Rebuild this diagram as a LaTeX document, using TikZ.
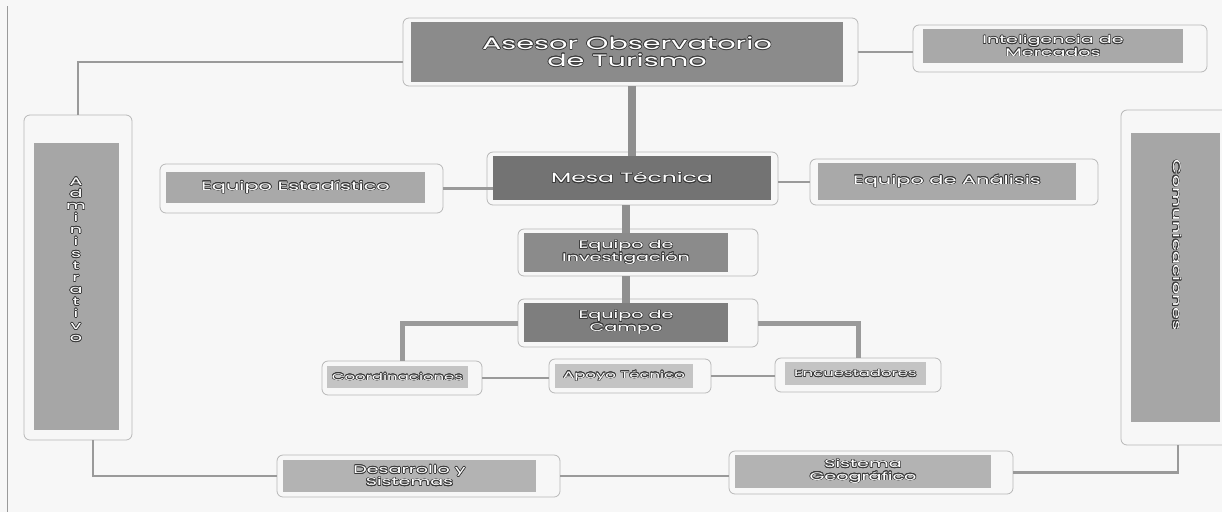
\documentclass[tikz,border=0pt]{standalone}
\usepackage{fontspec}
\setmainfont{Poppins}[FakeStretch=1.74]
\usepackage{contour}
\contourlength{0.6pt}
\usetikzlibrary{calc}
\definecolor{bgc}{HTML}{F7F7F7}
\definecolor{fdark}{HTML}{737373}
\definecolor{fmid}{HTML}{8B8B8B}
\definecolor{fcamp}{HTML}{7E7E7E}
\definecolor{flight}{HTML}{A9A9A9}
\definecolor{fpale}{HTML}{C4C4C4}
\definecolor{fside}{HTML}{A6A6A6}
\definecolor{fbot}{HTML}{B3B3B3}
\definecolor{linec}{HTML}{9A9A9A}
\definecolor{barc}{HTML}{8F8F8F}
\definecolor{framec}{HTML}{B8B8B8}
\definecolor{edgec}{HTML}{3A3A3A}
\newcommand\wtxt[1]{\contour{edgec}{#1}}
\begin{document}
\begin{tikzpicture}[x=1pt,y=-1pt,
  box/.style={rectangle, inner sep=0pt, text=white, align=center},
  frame/.style={rectangle, draw=framec, line width=0.8pt, rounded corners=6pt, inner sep=0pt},
  conn/.style={draw=linec, line width=2.6pt},
  branch/.style={draw=linec, line width=5pt},
  bar/.style={draw=barc, line width=8pt},
  big/.style={font=\fontsize{16.5}{17}\selectfont},
  mid/.style={font=\fontsize{13.5}{15}\selectfont},
  norm/.style={font=\fontsize{12}{13}\selectfont},
  small/.style={font=\fontsize{11}{12.5}\selectfont},
  tiny/.style={font=\fontsize{9.5}{10}\selectfont},
  side/.style={font=\fontsize{11}{12}\selectfont}]
\useasboundingbox (0,0) rectangle (1222,512);
\fill[bgc] (0,0) rectangle (1222,512);
\draw[linec, line width=0.8pt] (7,6) -- (7,512);

% frames
\node[frame, minimum width=455pt, minimum height=68pt] (asesorF) at (630.5,52) {};
\node[frame, minimum width=294pt, minimum height=47pt] (intelF) at (1060,48.5) {};
\node[frame, minimum width=291pt, minimum height=53pt] (mesaF) at (632.5,178.5) {};
\node[frame, minimum width=283pt, minimum height=49pt] (estadF) at (301.5,188.5) {};
\node[frame, minimum width=288pt, minimum height=46pt] (analF) at (954,182) {};
\node[frame, minimum width=240pt, minimum height=47pt] (invF) at (638,252.5) {};
\node[frame, minimum width=240pt, minimum height=48pt] (campoF) at (638,323) {};
\node[frame, minimum width=160pt, minimum height=34pt] (coordF) at (402,378) {};
\node[frame, minimum width=162pt, minimum height=34pt] (apoyoF) at (630,376) {};
\node[frame, minimum width=166pt, minimum height=34pt] (encuF) at (858,375) {};
\node[frame, minimum width=283pt, minimum height=42pt] (desaF) at (418.5,476) {};
\node[frame, minimum width=284pt, minimum height=43pt] (sistF) at (871,472.5) {};
\node[frame, minimum width=108pt, minimum height=325pt] (adminF) at (78,277.5) {};
\node[frame, minimum width=114pt, minimum height=335pt] (comuF) at (1178,277.5) {};

% boxes
\node[box, big, fill=fmid, minimum width=432pt, minimum height=60pt] (asesor) at (627,52) {\wtxt{Asesor Observatorio}\\\wtxt{de Turismo}};
\node[box, small, fill=flight, minimum width=260pt, minimum height=34pt] (intel) at (1053,46) {\wtxt{Inteligencia de}\\\wtxt{Mercados}};
\node[box, mid, fill=fdark, minimum width=278pt, minimum height=44pt] (mesa) at (632,178) {\wtxt{Mesa Técnica}};
\node[box, norm, fill=flight, minimum width=259pt, minimum height=31pt] (estad) at (295.5,187.5) {\wtxt{Equipo Estadístico}};
\node[box, norm, fill=flight, minimum width=258pt, minimum height=37pt] (anal) at (947,181.5) {\wtxt{Equipo de Análisis}};
\node[box, small, fill=fmid, minimum width=204pt, minimum height=39pt] (inv) at (626,252.5) {\wtxt{Equipo de}\\\wtxt{Investigación}};
\node[box, small, fill=fcamp, minimum width=204pt, minimum height=39pt] (campo) at (626,322.5) {\wtxt{Equipo de}\\\wtxt{Campo}};
\node[box, tiny, fill=fpale, minimum width=141pt, minimum height=22pt] (coord) at (397.5,377) {\wtxt{Coordinaciones}};
\node[box, tiny, fill=fpale, minimum width=138pt, minimum height=24pt] (apoyo) at (624,376) {\wtxt{Apoyo Técnico}};
\node[box, tiny, fill=fpale, minimum width=141pt, minimum height=23pt] (encu) at (855.5,373.5) {\wtxt{Encuestadores}};
\node[box, small, fill=fbot, minimum width=253pt, minimum height=32pt] (desa) at (409.5,476) {\wtxt{Desarrollo y}\\\wtxt{Sistemas}};
\node[box, small, fill=fbot, minimum width=256pt, minimum height=33pt] (sist) at (863,471.5) {\wtxt{Sistema}\\\wtxt{Geográfico}};
\node[box, fill=fside, minimum width=85pt, minimum height=287pt] (admin) at (76.5,286.5) {};
\node[box, fill=fside, minimum width=89pt, minimum height=289pt] (comu) at (1175.5,277.5) {};
\node[box, side] (admintext) at (76,260) {\wtxt{A}\\\wtxt{d}\\\wtxt{m}\\\wtxt{i}\\\wtxt{n}\\\wtxt{i}\\\wtxt{s}\\\wtxt{t}\\\wtxt{r}\\\wtxt{a}\\\wtxt{t}\\\wtxt{i}\\\wtxt{v}\\\wtxt{o}};
\node[box, side, rotate=-90] (comutext) at (1177,245) {\addfontfeature{LetterSpace=5}\wtxt{Comunicaciones}};

% connectors
\draw[conn] (asesor.east -| asesorF.east) -- (asesor.east -| intelF.west);
\draw[conn] ($(asesorF.west)+(0,10)$) -| (adminF.north);
\draw[bar] (mesa.north |- asesorF.south) -- (mesa.north);
\draw[conn] (estadF.east) -- (estadF.east -| mesa.west);
\draw[conn] (analF.west -| mesaF.east) -- (analF.west);
\draw[bar] (inv.north |- mesaF.south) -- (inv.north);
\draw[bar] (campo.north |- invF.south) -- (campo.north);
\draw[branch] (campoF.west) -| (coordF.north);
\draw[branch] (campoF.east) -| (encuF.north);
\draw[conn] (coordF.east) -- (coordF.east -| apoyoF.west);
\draw[conn] (apoyoF.east) -- (apoyoF.east -| encuF.west);
\draw[conn] ($(adminF.south)+(15,0)$) |- (desaF.west);
\draw[conn] (desaF.east) -- (desaF.east -| sistF.west);
\draw[conn] (sistF.east) -| (comuF.south);
\end{tikzpicture}
\end{document}
